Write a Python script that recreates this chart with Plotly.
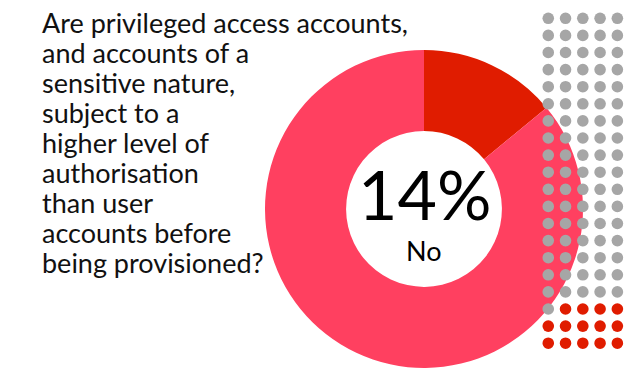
import plotly.graph_objects as go

# Survey answer split
labels = ["No", "Yes"]
shares = [14, 86]
slice_colors = ["#e01c00", "#ff4060"]

question_lines = [
    "Are privileged access accounts,",
    "and accounts of a",
    "sensitive nature,",
    "subject to a",
    "higher level of",
    "authorisation",
    "than user",
    "accounts before",
    "being provisioned?",
]

# 100-dot grid: 5 columns x 20 rows, filled row by row
grid_cols = 5
grid_rows = 20
dot_gray = "#a6a6a6"
dot_red = "#e01c00"

W, H = 626, 368

fig = go.Figure()

fig.add_trace(go.Pie(
    labels=labels,
    values=shares,
    marker=dict(colors=slice_colors, line=dict(width=0)),
    hole=0.49,
    sort=False,
    direction="clockwise",
    rotation=0,
    textinfo="none",
    showlegend=False,
    domain=dict(x=[(424 - 159) / W, (424 + 159) / W], y=[0, 1 - 50 / H]),
))

# Dot grid positions (column, row) and colours: last "No" share of dots in red
n_total = grid_cols * grid_rows
n_red = round(shares[0] / 100 * n_total)
xs, ys, cols = [], [], []
for i in range(n_total):
    r, c = divmod(i, grid_cols)
    xs.append(c)
    ys.append(r)
    cols.append(dot_red if i >= n_total - n_red else dot_gray)

# invisible carrier trace so the grid axes exist
fig.add_trace(go.Scatter(
    x=xs, y=ys, mode="markers",
    marker=dict(size=1, opacity=0),
    hoverinfo="skip", showlegend=False,
))

shapes = []
for x, y, col in zip(xs, ys, cols):
    shapes.append(dict(
        type="circle", xref="x", yref="y",
        xsizemode="pixel", ysizemode="pixel",
        xanchor=x, yanchor=y,
        x0=-5.8, x1=5.8, y0=-5.8, y1=5.8,
        fillcolor=col, line=dict(width=0), layer="above",
    ))

# Question text, one annotation per line with a tight 30px leading
annotations = []
for i, line in enumerate(question_lines):
    annotations.append(dict(
        text=line, xref="paper", yref="paper",
        x=40 / W, y=1 - (22.9 + 30 * i) / H, xanchor="left", yanchor="middle",
        align="left", showarrow=False,
        font=dict(family="Lato", size=27, color="#111111"),
    ))

annotations += [
    dict(text=f"{shares[0]}%", xref="paper", yref="paper",
         x=424 / W, y=1 - 193 / H, xanchor="center", yanchor="middle",
         showarrow=False, font=dict(family="Lato", size=68, color="#000000")),
    dict(text=labels[0], xref="paper", yref="paper",
         x=424 / W, y=1 - 250 / H, xanchor="center", yanchor="middle",
         showarrow=False, font=dict(family="Lato", size=27, color="#000000")),
]

step_x = 17.35
step_y = 17.1
fig.update_layout(
    width=W, height=H,
    margin=dict(l=0, r=0, t=0, b=0),
    paper_bgcolor="white", plot_bgcolor="rgba(0,0,0,0)",
    xaxis=dict(range=[-0.5, grid_cols - 0.5], visible=False, fixedrange=True,
               domain=[(548.3 - step_x / 2) / W, min(1, (548.3 + step_x * 4.5) / W)]),
    yaxis=dict(range=[grid_rows - 0.5, -0.5], visible=False, fixedrange=True,
               domain=[1 - (18.3 + step_y * 19.5) / H, 1 - (18.3 - step_y / 2) / H]),
    shapes=shapes,
    annotations=annotations,
    showlegend=False,
)

fig.write_html("out.html")
